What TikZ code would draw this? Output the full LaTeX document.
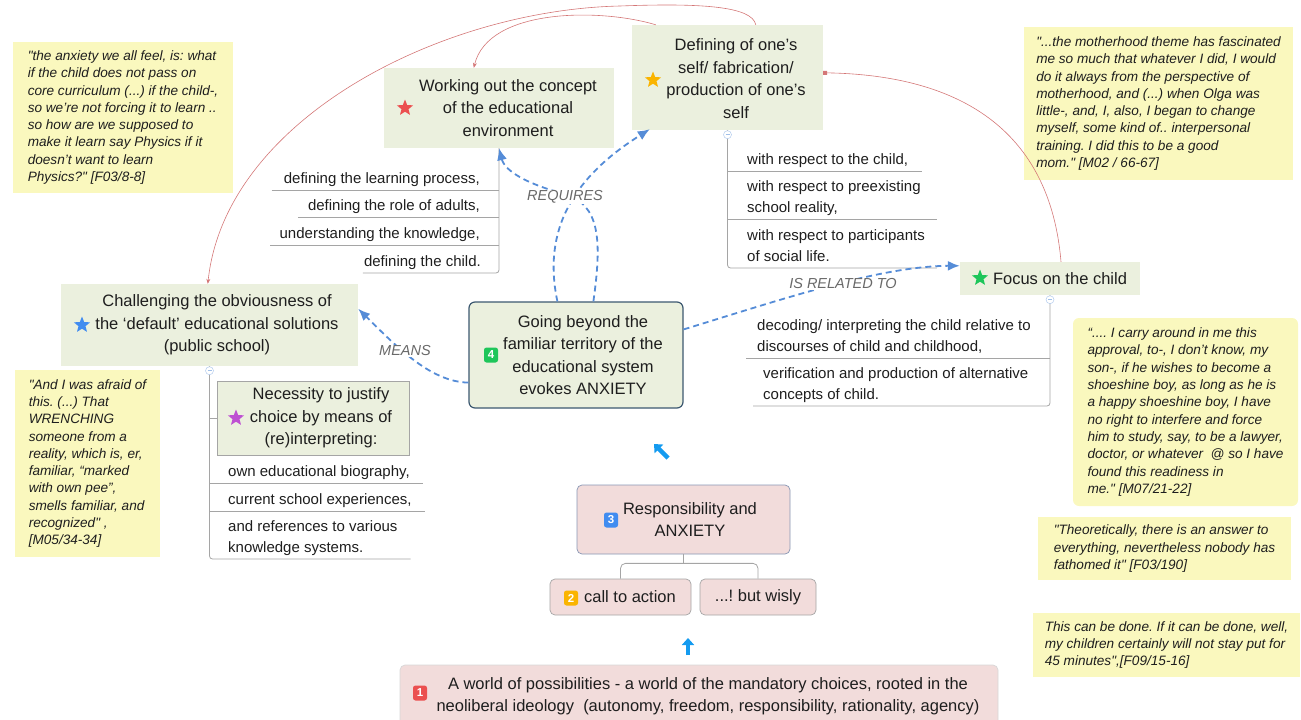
\documentclass[tikz,border=0pt]{standalone}
\usepackage{fontspec}
\setmainfont{Liberation Sans}[Ligatures=TeXOff]
\usetikzlibrary{arrows.meta, positioning, calc, shapes.geometric}
\frenchspacing

\definecolor{topicgreen}{RGB}{235,240,222}
\definecolor{notepink}{RGB}{242,220,219}
\definecolor{quoteyellow}{RGB}{250,248,190}
\definecolor{linkblue}{RGB}{85,140,215}
\definecolor{flowblue}{RGB}{20,155,240}
\definecolor{relred}{RGB}{205,95,95}
\definecolor{framegray}{RGB}{165,165,165}
\definecolor{respframe}{RGB}{135,150,180}
\definecolor{centerframe}{RGB}{60,88,112}
\definecolor{labelgray}{RGB}{105,105,105}
\definecolor{inkblack}{RGB}{30,30,30}
\definecolor{markred}{RGB}{235,80,80}
\definecolor{markorange}{RGB}{250,180,0}
\definecolor{markblue}{RGB}{65,140,240}
\definecolor{markpurple}{RGB}{190,80,210}
\definecolor{markgreen}{RGB}{30,198,90}

\newcommand{\topicfont}{\fontsize{16.5}{22.5}\selectfont}
\newcommand{\itemfont}{\fontsize{15}{21}\selectfont}
\newcommand{\quotefont}{\fontsize{13.6}{17.3}\selectfont\itshape}
\newcommand{\linkfont}{\fontsize{14.5}{16}\selectfont\itshape}

\tikzset{
  topicbox/.style={fill=topicgreen, inner sep=0pt},
  topictext/.style={font=\topicfont, text=inkblack, align=center, inner sep=0pt},
  notebox/.style={fill=notepink, draw=framegray, rounded corners=5pt, inner sep=0pt, line width=0.7pt},
  quotebox/.style={fill=quoteyellow, font=\quotefont, text=inkblack, align=left, inner sep=0pt},
  itemtext/.style={font=\itemfont, text=inkblack, align=left, inner xsep=0pt, inner ysep=0.5pt},
  spine/.style={draw=framegray, line width=0.8pt},
  foldmark/.style={circle, draw=linkblue!45, fill=white, minimum size=8pt, inner sep=0pt, line width=0.5pt,
    path picture={\draw[linkblue!55, line width=0.5pt] ([xshift=2pt]path picture bounding box.west) -- ([xshift=-2pt]path picture bounding box.east);}},
  starmark/.style={star, star points=5, star point ratio=2.3, minimum size=17pt, inner sep=0pt, fill=#1},
  badge/.style={fill=#1, rounded corners=2.5pt, minimum width=14pt, minimum height=15pt, inner sep=0pt, text=white, font=\fontsize{11.5}{11.5}\selectfont\bfseries},
  link/.style={draw=linkblue, line width=1.8pt, dash pattern=on 6pt off 4pt, -{Latex[length=12pt,width=10pt]}},
  linklabel/.style={font=\linkfont, text=labelgray, fill=white, inner sep=1pt},
  relation/.style={draw=relred!85, line width=0.6pt},
  flow/.style={draw=flowblue, line width=4.5pt, -{Triangle[length=7pt,width=12pt]}},
}

\begin{document}
\begin{tikzpicture}[x=1pt, y=-1pt]
    \useasboundingbox (0,0) rectangle (1301,720);
    \clip (0,0) rectangle (1301,720);

    % quotes
    \node[quotebox, minimum width=220pt, minimum height=151pt] (qanx) at (123,117.5)
        {"the anxiety we all feel, is: what\\if the child does not pass on\\core curriculum (...) if the child-,\\so we’re not forcing it to learn ..\\so how are we supposed to\\make it learn say Physics if it\\doesn’t want to learn\\Physics?" {[}F03/8-8]};
    \node[quotebox, minimum width=269pt, minimum height=153pt] (qmom) at (1158.5,103.5)
        {"...the motherhood theme has fascinated\\me so much that whatever I did, I would\\do it always from the perspective of\\motherhood, and (...) when Olga was\\little-, and, I, also, I began to change\\myself, some kind of.. interpersonal\\training. I did this to be a good\\mom." {[}M02 / 66-67]};
    \node[quotebox, minimum width=145pt, minimum height=187pt] (qpee) at (87.5,463.5)
        {"And I was afraid of\\this. (...) That\\WRENCHING\\someone from a\\reality, which is, er,\\familiar, “marked\\with own pee”,\\smells familiar, and\\recognized" ,\\{[}M05/34-34]};
    \node[quotebox, rounded corners=6pt, minimum width=225pt, minimum height=188pt] (qshoe) at (1185.5,412)
        {“.... I carry around in me this\\approval, to-, I don’t know, my\\son-, if he wishes to become a\\shoeshine boy, as long as he is\\a happy shoeshine boy, I have\\no right to interfere and force\\him to study, say, to be a lawyer,\\doctor, or whatever \ @ so I have\\found this readiness in\\me." {[}M07/21-22]};
    \node[quotebox, minimum width=253pt, minimum height=63pt] (qtheo) at (1164.5,548.5)
        {"Theoretically, there is an answer to\\everything, nevertheless nobody has\\fathomed it" {[}F03/190]};
    \node[quotebox, minimum width=267pt, minimum height=64pt] (qdone) at (1166.5,645)
        {This can be done. If it can be done, well,\\my children certainly will not stay put for\\45 minutes",{[}F09/15-16]};

    % main topics
    \node[topicbox, minimum width=230pt, minimum height=80pt] (work) at (499,108) {};
    \node[topictext] (worktxt) at (508,108) {Working out the concept\\of the educational\\environment};
    \node[starmark=markred] (workstar) at (405,108) {};

    \node[topicbox, minimum width=191pt, minimum height=105pt] (def) at (727.5,77.5) {};
    \node[topictext] (deftxt) at (736,78.5) {Defining of one’s\\self/ fabrication/\\production of one’s\\self};
    \node[starmark=markorange] (defstar) at (653,80) {};

    \node[topicbox, minimum width=297pt, minimum height=82pt] (chal) at (209.5,325) {};
    \node[topictext] (chaltxt) at (217,325) {Challenging the obviousness of\\the ‘default’ educational solutions\\(public school)};
    \node[starmark=markblue] (chalstar) at (82,325) {};

    \node[topicbox, draw=framegray, line width=0.8pt, minimum width=192pt, minimum height=74pt] (neces) at (313,418) {};
    \node[topictext] (necestxt) at (321,418) {Necessity to justify\\choice by means of\\(re)interpreting:};
    \node[starmark=markpurple] (necesstar) at (236,418) {};

    \node[topicbox, minimum width=180pt, minimum height=33pt] (focus) at (1050,278.5) {};
    \node[topictext] (focustxt) at (1060,278.5) {Focus on the child};
    \node[starmark=markgreen] (focusstar) at (980,278) {};

    \node[topicbox, draw=centerframe, line width=1.2pt, rounded corners=6pt, minimum width=214pt, minimum height=106pt] (cent) at (576,355) {};
    \node[topictext] (centtxt) at (583,355) {Going beyond the\\familiar territory of the\\educational system\\evokes ANXIETY};
    \node[badge=markgreen] (b4) at (491,355) {4};

    % pink flow
    \node[notebox, draw=respframe, minimum width=213pt, minimum height=69pt] (resp) at (683.5,519.5) {};
    \node[topictext] (resptxt) at (690,519.5) {Responsibility and\\ANXIETY};
    \node[badge=markblue] (b3) at (611,520) {3};

    \node[notebox, minimum width=141pt, minimum height=36pt] (call) at (620.5,597) {};
    \node[topictext] (calltxt) at (630,597) {call to action};
    \node[badge=markorange] (b2) at (571,598) {2};

    \node[notebox, minimum width=116pt, minimum height=36pt, font=\topicfont, text=inkblack] (wisly) at (758,597) {...! but wisly};

    \node[notebox, draw=framegray!45, minimum width=598pt, minimum height=60pt] (world) at (699,695) {};
    \node[topictext] (worldtxt) at (708,696) {A world of possibilities - a world of the mandatory choices, rooted in the\\neoliberal ideology \ (autonomy, freedom, responsibility, rationality, agency)};
    \node[badge=markred] (b1) at (420,693) {1};

    \draw[spine] (resp.south) -- ++(0,9) coordinate (rj);
    \draw[spine, rounded corners=5pt] (call.north) |- (rj) -| (wisly.north);

    \coordinate (upbase) at (688,655);
    \coordinate (uptip) at (688,638);
    \draw[flow] (upbase) -- (uptip);
    \coordinate (diagbase) at (668,458);
    \coordinate (diagtip) at (654,444);
    \draw[flow] (diagbase) -- (diagtip);

    % subtopics of work
    \node[itemtext, anchor=south east] (wk1) at (480,190) {defining the learning process,\strut};
    \node[itemtext, anchor=south east] (wk2) at (480,217) {defining the role of adults,\strut};
    \node[itemtext, anchor=south east] (wk3) at (480,245) {understanding the knowledge,\strut};
    \node[itemtext, anchor=south east] (wk4) at (481,273) {defining the child.\strut};
    \draw[spine] ([xshift=-12pt]wk1.south west) -- (wk1.south -| work.south);
    \draw[spine] ([xshift=-10pt]wk2.south west) -- (wk2.south -| work.south);
    \draw[spine] ([xshift=-9pt]wk3.south west) -- (wk3.south -| work.south);
    \draw[spine, rounded corners=3pt] (work.south) |- ([xshift=-1pt]wk4.south west);

    % subtopics of def
    \node[itemtext, anchor=south west] (df1) at (747,171) {with respect to the child,\strut};
    \node[itemtext, anchor=south west] (df2) at (747,219) {with respect to preexisting\\school reality,\strut};
    \node[itemtext, anchor=south west] (df3) at (747,268) {with respect to participants\\of social life.\strut};
    \draw[spine] (df1.south west -| def.south) -- ([xshift=14pt]df1.south east);
    \draw[spine] (df2.south west -| def.south) -- ([xshift=16pt]df2.south east);
    \draw[spine, rounded corners=3pt] (def.south) |- ([xshift=12pt]df3.south east);
    \node[foldmark] (deffold) at ($(def.south)+(0,4.5)$) {};

    % subtopics of focus
    \node[itemtext, anchor=south west] (fc1) at (757,358) {decoding/ interpreting the child relative to\\discourses of child and childhood,\strut};
    \node[itemtext, anchor=south west] (fc2) at (763,406) {verification and production of alternative\\concepts of child.\strut};
    \draw[spine] ([xshift=-11pt]fc1.south west) -- (fc1.south -| focus.south);
    \draw[spine, rounded corners=3pt] (focus.south) |- ([xshift=-10pt]fc2.south west);
    \node[foldmark] (focusfold) at ($(focus.south)+(0,4.5)$) {};

    % subtopics of chal
    \node[itemtext, anchor=south west] (ch1) at (228,483) {own educational biography,\strut};
    \node[itemtext, anchor=south west] (ch2) at (228,511) {current school experiences,\strut};
    \node[itemtext, anchor=south west] (ch3) at (228,559) {and references to various\\knowledge systems.\strut};
    \draw[spine] (neces.west -| chal.south) -- (neces.west);
    \draw[spine] (ch1.south west -| chal.south) -- ([xshift=13pt]ch1.south east);
    \draw[spine] (ch2.south west -| chal.south) -- ([xshift=13pt]ch2.south east);
    \draw[spine, rounded corners=3pt] (chal.south) |- ([xshift=13pt]ch3.south east);
    \node[foldmark] (chalfold) at ($(chal.south)+(0,4.5)$) {};

    % links
    \draw[link] ($(cent.north west)+(125,0)$) .. controls (602,240) and (600,205) .. (565,194)
        .. controls (530,185) and (505,172) .. (work.south);
    \draw[link] ($(cent.north west)+(89,0)$) .. controls (540,220) and (585,170) .. ($(def.south west)+(18,-1)$);
    \node[linklabel] (lreq) at (565,197) {REQUIRES};

    \draw[link] ($(cent.south west)+(0,-26)$) .. controls (430,382) and (395,345) .. ($(chal.north east)+(0,25)$);
    \node[linklabel] (lmeans) at (405,351) {MEANS};

    \draw[link] ($(cent.north east)+(0,28)$) .. controls (780,300) and (880,266) .. ($(focus.north west)+(0,4)$);
    \node[linklabel] (lrel) at (843,284) {IS RELATED TO};

    % relationships
    \draw[relation, -{Stealth[length=5pt,width=4pt]}] ($(def.north west)+(24,0)$) .. controls (600,8) and (488,8) .. ($(work.north west)+(90,0)$);
    \draw[relation, -{Stealth[length=5pt,width=4pt]}] ($(def.north west)+(124,0)$) .. controls (752,6) and (700,3) .. (620,6)
        .. controls (440,10) and (225,120) .. ($(chal.north west)+(147,0)$);
    \draw[relation, {Square[length=4pt,width=4pt]}-] ($(def.north east)+(0,48)$) .. controls (960,75) and (1050,130) .. ($(focus.north)+(11,0)$);

\end{tikzpicture}
\end{document}
